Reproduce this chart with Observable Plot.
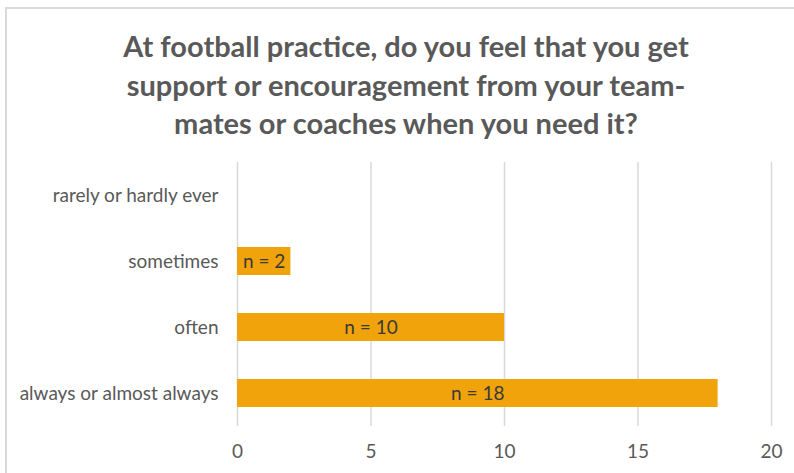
<!DOCTYPE html>
<html><head><meta charset="utf-8">
<script src="https://cdn.jsdelivr.net/npm/d3@7"></script>
<script src="https://cdn.jsdelivr.net/npm/@observablehq/plot@0.6"></script>
<style>
body{margin:0;background:#fff;width:794px;height:473px;overflow:hidden;position:relative;font-family:Lato,"Open Sans",sans-serif}
#frame{position:absolute;left:5px;top:7px;width:820px;height:490px;border:2px solid #d9d9d9;box-sizing:border-box}
#title{position:absolute;left:6px;width:800px;top:27px;text-align:center;font-weight:bold;font-size:29px;line-height:38.5px;color:#595959}
#chart{position:absolute;left:0;top:160px}
</style></head>
<body>
<div id="frame"></div>
<div id="title">At football practice, do you feel that you get<br>support or encouragement from your team-<br>mates or coaches when you need it?</div>
<div id="chart"></div>
<script>
const categories = ["rarely or hardly ever", "sometimes", "often", "always or almost always"];
const counts = [0, 2, 10, 18];
const xTicks = [0, 5, 10, 15, 20];
const data = categories.map((c, i) => ({category: c, count: counts[i]}));
const shown = data.filter(d => d.count > 0);

const chart = Plot.plot({
  width: 794, height: 313,
  marginTop: 2, marginBottom: 47, marginLeft: 237, marginRight: 23,
  style: {fontFamily: "Lato, 'Open Sans', sans-serif", fontSize: "19px", color: "#595959", background: "transparent"},
  x: {domain: [0, 20], label: null},
  y: {domain: categories, paddingInner: 0.58, paddingOuter: 0.29, label: null},
  marks: [
    Plot.ruleX(xTicks, {stroke: "#d9d9d9", strokeWidth: 1.5}),
    Plot.barX(shown, {x: "count", y: "category", fill: "#F0A30A"}),
    Plot.text(shown, {x: d => d.count / 2, y: "category", text: d => `n = ${d.count}`, fill: "#3a3a3a", fontSize: 19}),
    Plot.axisX({ticks: xTicks, tickSize: 0, tickPadding: 18, label: null, fontSize: 19}),
    Plot.axisY({tickSize: 0, tickPadding: 19, label: null, fontSize: 19})
  ]
});
document.getElementById("chart").append(chart);
</script>
</body></html>
